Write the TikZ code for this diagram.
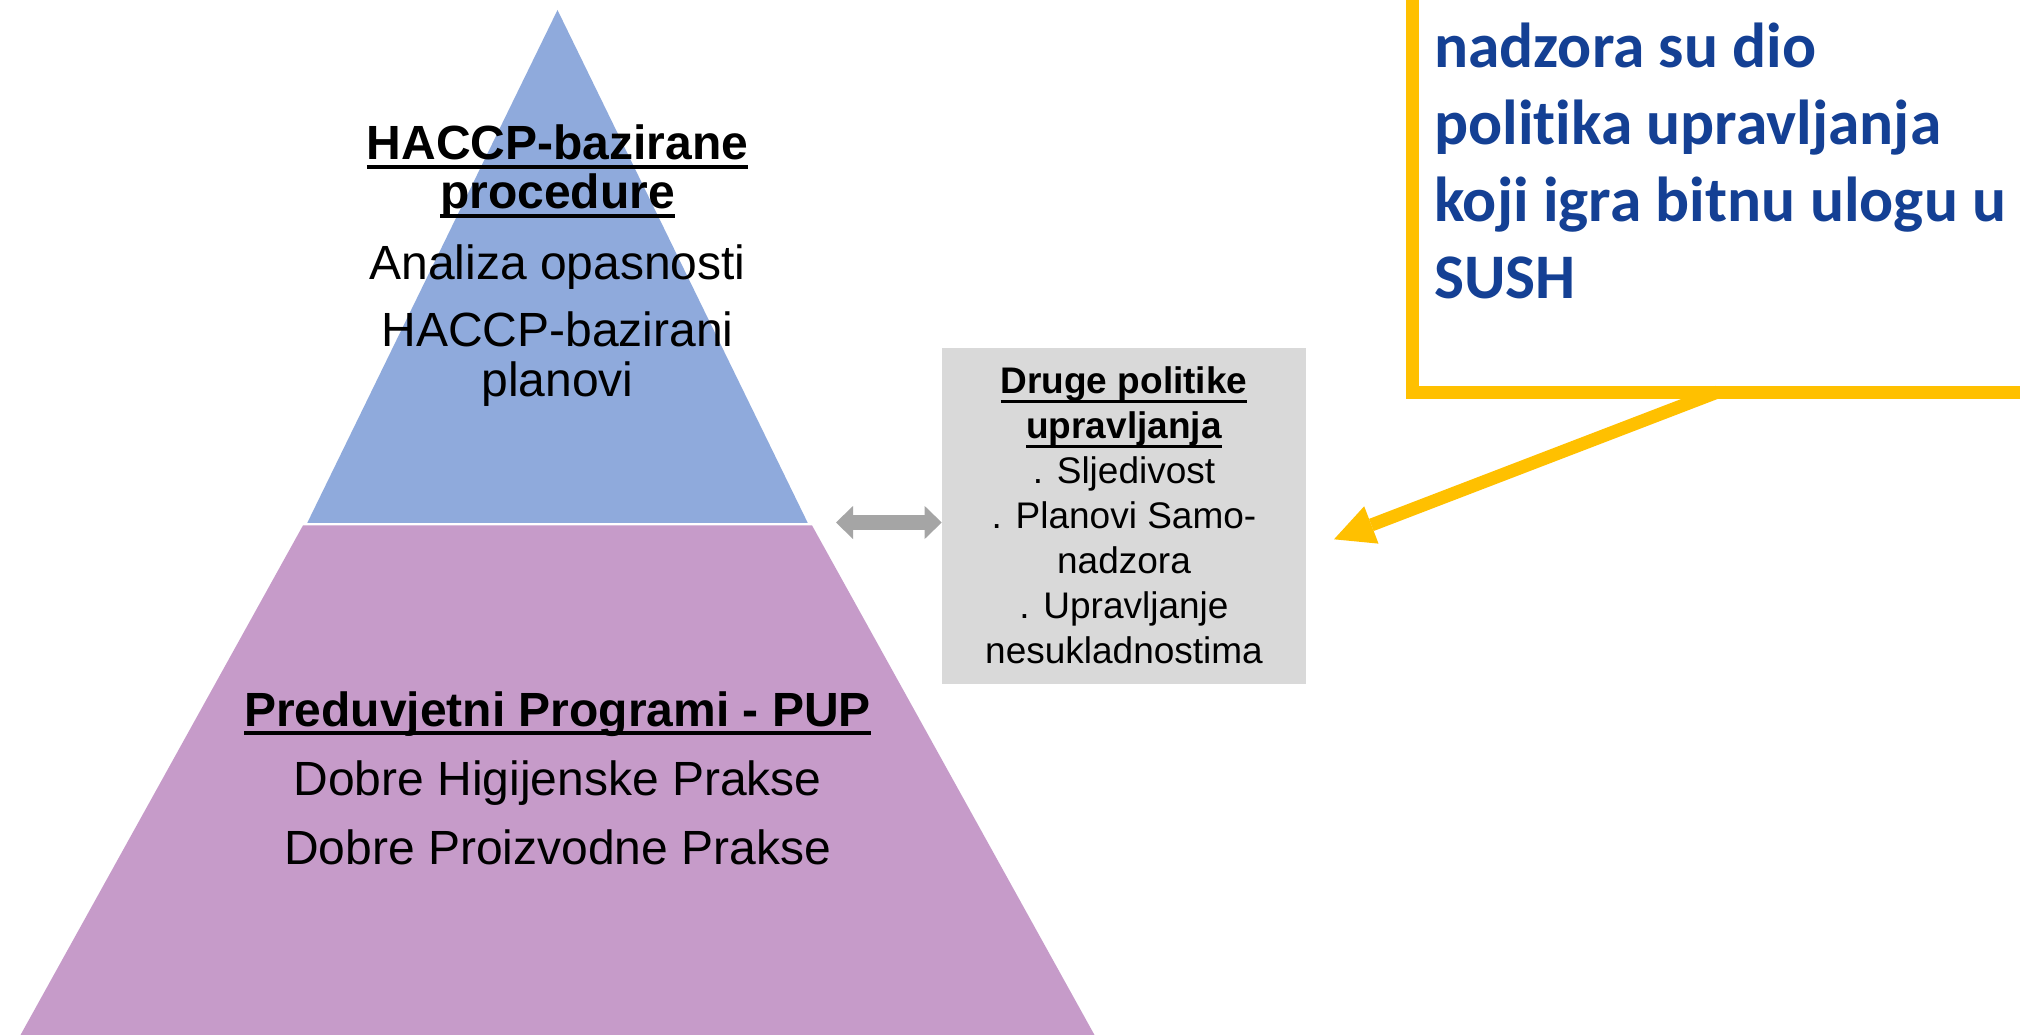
\documentclass[tikz,border=0pt]{standalone}
\usepackage{fontspec}
\setmainfont{Liberation Sans}
\newfontfamily\calibrifont[Ligatures=NoCommon]{Carlito}
\usetikzlibrary{arrows.meta}
\definecolor{pyrblue}{RGB}{143,170,220}
\definecolor{pyrpurple}{RGB}{198,155,201}
\definecolor{boxgray}{RGB}{217,217,217}
\definecolor{arrgray}{RGB}{165,165,165}
\definecolor{yel}{RGB}{255,192,0}
\definecolor{navytext}{RGB}{20,64,148}
\newsavebox{\ulsave}
\newcommand\myul[3]{\sbox\ulsave{#3}\rlap{\rule[-#1]{\wd\ulsave}{#2}}\usebox\ulsave}
\tikzset{
  ptxt/.style={anchor=base, inner sep=0pt, font=\fontsize{48pt}{50pt}\selectfont},
  pbold/.style={anchor=base, inner sep=0pt, font=\fontsize{48pt}{50pt}\selectfont\bfseries},
  gtxt/.style={anchor=base, inner sep=0pt, font=\fontsize{37pt}{45pt}\selectfont},
  gbold/.style={anchor=base, inner sep=0pt, font=\fontsize{37pt}{45pt}\selectfont\bfseries},
  ytxt/.style={anchor=base west, inner sep=0pt, text=navytext, font=\calibrifont\bfseries\fontsize{63.5pt}{77pt}\selectfont},
  grayarrow/.style={draw=arrgray, line width=15pt,
    {Triangle[length=17pt,width=33pt,line width=0pt]}-{Triangle[length=17pt,width=33pt,line width=0pt]}},
  yelarrow/.style={draw=yel, line width=13pt, -{Triangle[length=40pt,width=40pt,line width=0pt]}},
}
\begin{document}
\begin{tikzpicture}[x=1pt,y=-1pt]
\useasboundingbox (0,0) rectangle (2020,1035);
\clip (0,0) rectangle (2020,1035);
\fill[white] (0,0) rectangle (2020,1035);
% pyramid
\fill[pyrblue] (557.5,10) -- (307.3,522.8) -- (807.7,522.8) -- cycle;
\fill[pyrpurple] (303,525.4) -- (812,525.4) -- (1094.5,1035) -- (20.5,1035) -- cycle;
% top texts
\node[pbold] (h1a) at (557.5,160) {\myul{9.3pt}{4pt}{HACCP-bazirane}};
\node[pbold] (h1b) at (557.5,208.5) {\myul{9.3pt}{4pt}{procedure}};
\node[ptxt] (t1) at (557.5,279) {Analiza opasnosti};
\node[ptxt] (t2) at (557.5,346.5) {HACCP-bazirani};
\node[ptxt] (t3) at (557.5,396) {planovi};
% bottom texts
\node[pbold] (h2) at (557.5,726) {\myul{9.3pt}{4pt}{Preduvjetni Programi - PUP}};
\node[ptxt] (t4) at (557.5,795) {Dobre Higijenske Prakse};
\node[ptxt] (t5) at (557.5,864.5) {Dobre Proizvodne Prakse};
% gray box
\node[fill=boxgray, minimum width=364.3pt, minimum height=336pt, inner sep=0pt, outer sep=0pt, anchor=north west] (other) at (941.7,348) {};
\node[gbold] (g1) at (1124,393.3) {\myul{9.5pt}{2.5pt}{Druge politike}};
\node[gbold] (g2) at (1124,438.3) {\myul{9.5pt}{2.5pt}{upravljanja}};
\node[gtxt] (g3) at (1124,483.3) {. Sljedivost};
\node[gtxt] (g4) at (1124,528.3) {. Planovi Samo-};
\node[gtxt] (g5) at (1124,573.3) {nadzora};
\node[gtxt] (g6) at (1124,618.3) {. Upravljanje};
\node[gtxt] (g7) at (1124,663.3) {nesukladnostima};
% double arrow
\coordinate (pyrR) at (836,522.5);
\draw[grayarrow] (pyrR) -- (pyrR -| other.west);
% callout
\node[draw=yel, line width=13pt, minimum width=627.5pt, minimum height=430pt, inner sep=0pt, outer sep=0pt, anchor=south west] (callout) at (1412.5,392) {};
\node[ytxt] (y1) at (1434,67.5) {nadzora su dio};
\node[ytxt] (y2) at (1434,144.5) {politika upravljanja};
\node[ytxt] (y3) at (1434,221.5) {koji igra bitnu ulogu u};
\node[ytxt] (y4) at (1434,298.5) {SUSH};
\coordinate (cs) at ([xshift=305.1pt]callout.south west);
\coordinate (tip) at (1334,539.3);
\draw[yelarrow] (cs) -- (tip);
\end{tikzpicture}
\end{document}
